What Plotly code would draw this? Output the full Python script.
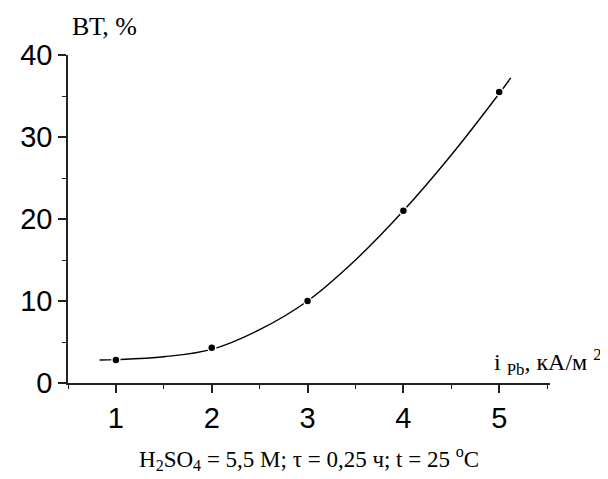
import plotly.graph_objects as go

# measured points
current_density = [1, 2, 3, 4, 5]
current_efficiency = [2.8, 4.3, 10.0, 21.0, 35.5]

# fitted curve
curve_x = [0.83, 1.0, 1.5, 2.0, 2.5, 3.0, 3.5, 4.0, 4.5, 5.0, 5.12]
curve_y = [2.8, 2.85, 3.2, 4.1, 6.5, 10.0, 15.0, 21.0, 27.8, 35.3, 37.2]

x_ticks = [1, 2, 3, 4, 5]
y_ticks = [0, 10, 20, 30, 40]

fig = go.Figure()
fig.add_trace(go.Scatter(x=curve_x, y=curve_y, mode="lines",
                         line=dict(color="black", width=1.4, shape="spline", smoothing=1.0),
                         hoverinfo="skip", showlegend=False))
fig.add_trace(go.Scatter(x=current_density, y=current_efficiency, mode="markers",
                         marker=dict(color="black", size=8, line=dict(color="white", width=1.5)),
                         showlegend=False, cliponaxis=False))

tick_font = dict(family="Liberation Sans, Arial, sans-serif", size=29, color="black")

fig.update_xaxes(range=[0.5, 5.53], tickvals=x_ticks, ticktext=[str(v) for v in x_ticks],
                 showgrid=False, zeroline=False, showline=True, linecolor="#222", linewidth=1.6,
                 ticks="outside", ticklen=8, tickwidth=1.5, tickcolor="#222",
                 minor=dict(dtick=0.5, ticks="outside", ticklen=4, tickwidth=1.2, tickcolor="#222"),
                 tickfont=tick_font)
fig.update_yaxes(range=[0, 40], tickvals=y_ticks, ticktext=[str(v) for v in y_ticks],
                 showgrid=False, zeroline=False, showline=True, linecolor="#222", linewidth=1.6,
                 ticks="outside", ticklen=8, tickwidth=1.5, tickcolor="#222",
                 minor=dict(dtick=5, ticks="outside", ticklen=4, tickwidth=1.2, tickcolor="#222"),
                 tickfont=tick_font)

serif = "Liberation Serif, Times New Roman, serif"
fig.add_annotation(text="ВТ, %", xref="paper", yref="paper", x=0.004, y=1.088,
                   xanchor="left", yanchor="middle", showarrow=False,
                   font=dict(family=serif, size=26, color="black"))
fig.add_annotation(text="i <sub>Pb</sub>, кА/м <sup>2</sup>", xref="paper", yref="paper",
                   x=1.112, y=0.005, xanchor="right", yanchor="bottom", showarrow=False,
                   font=dict(family=serif, size=24, color="black"))
fig.add_annotation(text="H<sub>2</sub>SO<sub>4</sub> = 5,5 M; τ = 0,25 ч; t = 25 <sup>o</sup>C",
                   xref="paper", yref="paper", x=0.501, y=-0.229,
                   xanchor="center", yanchor="middle", showarrow=False,
                   font=dict(family=serif, size=23, color="black"))

# the page body adds an 8 px offset, so the figure is 8 px smaller and margins shifted
fig.update_layout(width=600, height=471, margin=dict(l=51, r=58, t=47, b=96),
                  paper_bgcolor="white", plot_bgcolor="white")

fig.write_html("out.html")
